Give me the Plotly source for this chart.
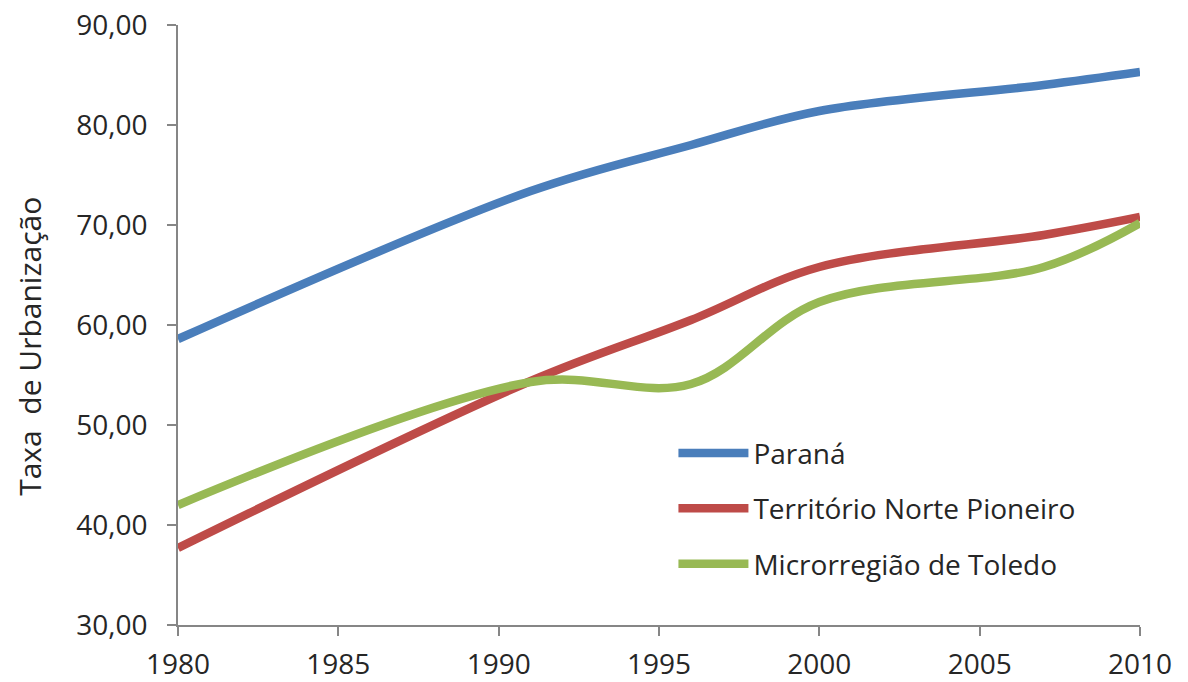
import plotly.graph_objects as go

years = [1980, 1991, 1996, 2000, 2007, 2010]
parana = [58.6, 73.4, 78.0, 81.4, 84.0, 85.3]
norte_pioneiro = [37.7, 54.4, 60.5, 65.8, 69.0, 70.8]
toledo = [42.0, 54.3, 54.1, 62.3, 65.8, 70.2]

series_names = ["Paraná", "Território Norte Pioneiro", "Microrregião de Toledo"]
series_values = [parana, norte_pioneiro, toledo]
series_colors = ["#4A7EBB", "#BE4B48", "#98B954"]

x_ticks = [1980, 1985, 1990, 1995, 2000, 2005, 2010]
y_ticks = [30, 40, 50, 60, 70, 80, 90]
y_tick_text = ["30,00", "40,00", "50,00", "60,00", "70,00", "80,00", "90,00"]
y_title = "Taxa  de Urbanização"

fig = go.Figure()
for name, vals, col in zip(series_names, series_values, series_colors):
    fig.add_trace(go.Scatter(
        x=years, y=vals, name=name, mode="lines", legendgroup=name,
        line=dict(color=col, width=8.5, shape="spline", smoothing=1.0),
    ))

font_family = "Open Sans, DejaVu Sans, sans-serif"
# page body has an 8px margin, so the figure is sized to fit the window
fig.update_layout(
    width=1180, height=674,
    margin=dict(l=170, r=48, t=17, b=57, pad=0),
    paper_bgcolor="white", plot_bgcolor="white",
    font=dict(family=font_family, color="#262626"),
    showlegend=True,
    legend=dict(
        x=0.515, y=0.328, xanchor="left", yanchor="top",
        bgcolor="rgba(0,0,0,0)", borderwidth=0,
        font=dict(size=28, family=font_family, color="#262626"),
        itemwidth=70, tracegroupgap=16,
        traceorder="grouped",
    ),
    xaxis=dict(
        range=[1980, 2010], tickvals=x_ticks, ticktext=[str(v) for v in x_ticks],
        showgrid=False, zeroline=False, automargin=False,
        showline=True, linecolor="#868686", linewidth=1.5,
        ticks="outside", ticklen=9, tickcolor="#868686", tickwidth=1.5,
        ticklabelstandoff=5, ticklabeloverflow="allow",
        tickfont=dict(size=28, family=font_family, color="#262626"),
    ),
    yaxis=dict(
        range=[30, 90], tickvals=y_ticks, ticktext=y_tick_text,
        showgrid=False, zeroline=False, automargin=False,
        showline=True, linecolor="#868686", linewidth=1.5,
        ticks="outside", ticklen=9, tickcolor="#868686", tickwidth=1.5,
        ticklabelstandoff=14, ticklabeloverflow="allow",
        tickfont=dict(size=28, family=font_family, color="#262626"),
    ),
    annotations=[dict(
        text=y_title, textangle=-90, showarrow=False,
        xref="paper", yref="paper", x=-0.154, y=0.465,
        xanchor="center", yanchor="middle",
        font=dict(size=30, family=font_family, color="#262626"),
    )],
)

fig.write_html("out.html")
